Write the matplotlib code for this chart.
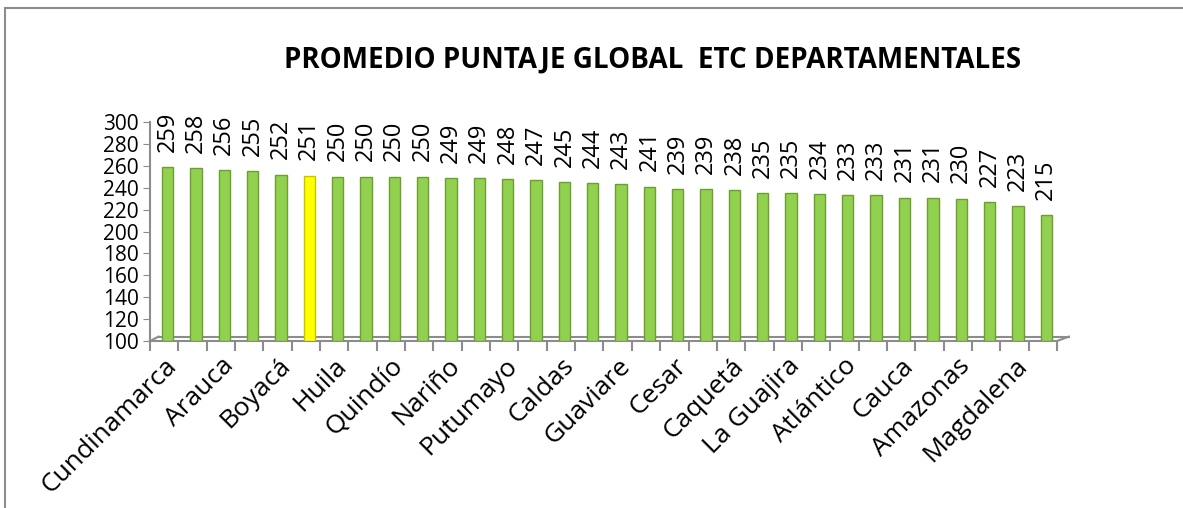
import matplotlib.pyplot as plt
import numpy as np
from matplotlib.patches import Rectangle

# datos (las etiquetas impares no se ven en la imagen)
departamentos = ['Cundinamarca', 'Santander', 'Arauca', 'Casanare', 'Boyacá', 'Tolima',
                 'Huila', 'Risaralda', 'Quindío', 'Meta', 'Nariño', 'Valle del Cauca',
                 'Putumayo', 'Antioquia', 'Caldas', 'Norte de Santander', 'Guaviare',
                 'Vichada', 'Cesar', 'Sucre', 'Caquetá', 'Córdoba', 'La Guajira',
                 'Bolívar', 'Atlántico', 'Vaupés', 'Cauca', 'Guainía', 'Amazonas',
                 'San Andrés', 'Magdalena', 'Chocó']
puntajes = [259, 258, 256, 255, 252, 251, 250, 250, 250, 250, 249, 249, 248, 247, 245, 244,
            243, 241, 239, 239, 238, 235, 235, 234, 233, 233, 231, 231, 230, 227, 223, 215]
destacado = 'Tolima'

base = 100
yticks = list(range(100, 301, 20))

plt.rcParams['font.family'] = ['Open Sans', 'DejaVu Sans']

fig = plt.figure(figsize=(11.83, 5.08), dpi=100)
W, H = 1183, 508
# marco exterior del grafico
fig.patches.append(Rectangle((5 / W, -0.05), 1.1, (H - 8) / H + 0.05, transform=fig.transFigure,
                             fill=False, edgecolor='#8c8c8c', linewidth=1.5))

ax = fig.add_axes([150 / W, (H - 341) / H, (1057 - 150) / W, (341 - 122) / H])

x = np.arange(len(puntajes))
colores = ['#FFFF00' if d == destacado else '#92D050' for d in departamentos]
bordes = ['#C8C400' if d == destacado else '#6E9E30' for d in departamentos]
alturas = [p - base for p in puntajes]
ax.bar(x + 0.12, alturas, bottom=base, width=0.4, color=colores, edgecolor=bordes, linewidth=1.0, zorder=3)

for i, p in enumerate(puntajes):
    ax.annotate(str(p), (x[i] + 0.12, p), xytext=(0, 11), textcoords='offset points',
                rotation=90, ha='center', va='bottom', fontsize=17)

ax.set_xlim(-0.5, len(puntajes) - 0.5)
ax.set_ylim(base, 300)
ax.set_yticks(yticks)
ax.tick_params(axis='y', labelsize=15, length=5, color='#8c8c8c', pad=3)

# etiquetas cada dos categorias
ax.set_xticks(x[::2])
ax.set_xticklabels(departamentos[::2], rotation=45, ha='right', rotation_mode='anchor', fontsize=19)
ax.set_xticks(np.arange(len(puntajes) + 1) - 0.5, minor=True)
ax.tick_params(axis='x', which='major', length=0, pad=9)
ax.tick_params(axis='x', which='minor', length=7, color='#8c8c8c', width=1.5)

for s in ['top', 'right']:
    ax.spines[s].set_visible(False)
ax.spines['left'].set_color('#8c8c8c')
ax.spines['left'].set_linewidth(1.5)
ax.spines['bottom'].set_color('#8c8c8c')
ax.spines['bottom'].set_linewidth(1.5)

# piso en perspectiva
x0, x1 = ax.get_xlim()
dx = 0.3
y_fondo = base + 4
ax.plot([x0 + dx, x1 + dx * 1.4], [y_fondo, y_fondo], color='#8c8c8c', lw=1.5, clip_on=False, zorder=2)
ax.plot([x0, x0 + dx], [base, y_fondo], color='#8c8c8c', lw=1.5, clip_on=False, zorder=2)
ax.plot([x1, x1 + dx * 1.4], [base, y_fondo], color='#8c8c8c', lw=1.5, clip_on=False, zorder=2)

fig.text(653 / W, (H - 60) / H, 'PROMEDIO PUNTAJE GLOBAL  ETC DEPARTAMENTALES',
         ha='center', va='center', fontsize=20, fontweight='bold')

fig.savefig('out.png', dpi=100)
